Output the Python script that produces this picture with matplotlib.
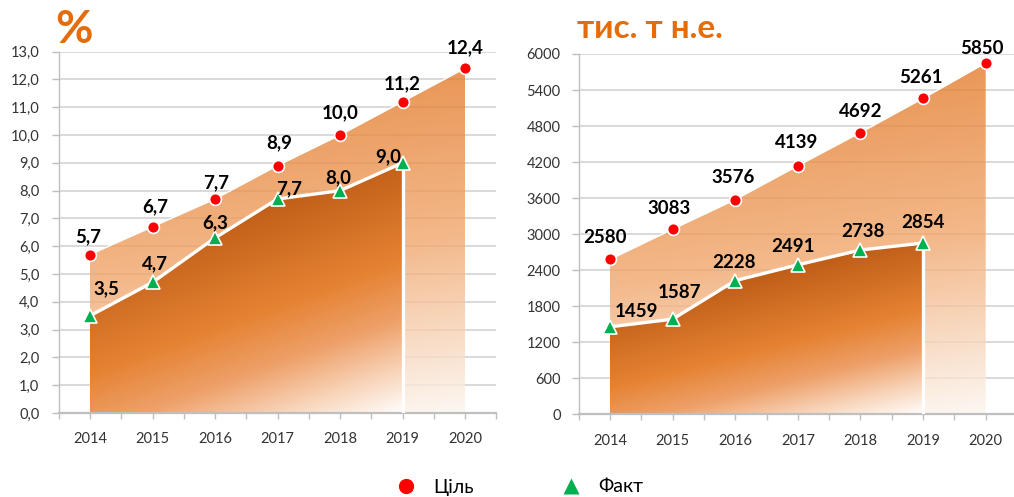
import numpy as np
import matplotlib
matplotlib.use("Agg")
import matplotlib.pyplot as plt
from matplotlib.colors import LinearSegmentedColormap
from matplotlib.patches import PathPatch
from matplotlib.lines import Line2D
from matplotlib.ticker import FuncFormatter, MultipleLocator

plt.rcParams['font.family'] = ['Lato', 'Noto Sans', 'DejaVu Sans']

# ---------------- data ----------------
years = ['2014', '2015', '2016', '2017', '2018', '2019', '2020']
pct_target = [5.7, 6.7, 7.7, 8.9, 10.0, 11.2, 12.4]
pct_fact = [3.5, 4.7, 6.3, 7.7, 8.0, 9.0]
toe_target = [2580, 3083, 3576, 4139, 4692, 5261, 5850]
toe_fact = [1459, 1587, 2228, 2491, 2738, 2854]

pct_title = '%'
toe_title = 'тис. т н.е.'
legend_labels = ['Ціль', 'Факт']

# label offsets (pixels)
pct_fact_off = [(16, 27), (2, 19), (0, 15), (12, 10), (-2, 13), (-14, 6)]
toe_fact_off = [(26, 15), (7, 27), (-1, 18), (-5, 18), (2, 18), (0, 21)]
pct_target_off = [(-2, 18), (3, 20), (1, 16), (2, 23), (0, 22), (0, 18), (0, 21)]
toe_target_off = [(-5, 22), (-4, 21), (-2, 22), (-1, 23), (0, 21), (-2, 21), (-4, 15)]

ORANGE = '#E46C0A'
GRID = '#D0D0D0'
SPINE = '#BFBFBF'
TICKC = '#333333'

target_cmap = LinearSegmentedColormap.from_list('tg', [
    (0.0, (224/255, 112/255, 25/255)),
    (0.55, (241/255, 167/255, 109/255)),
    (1.0, (252/255, 246/255, 240/255)),
])
fact_cmap = LinearSegmentedColormap.from_list('fc', [
    (0.0, (172/255, 78/255, 16/255)),
    (0.30, (194/255, 96/255, 26/255)),
    (0.58, (229/255, 130/255, 50/255)),
    (0.74, (238/255, 160/255, 105/255)),
    (0.88, (248/255, 212/255, 185/255)),
    (1.0, (255/255, 253/255, 251/255)),
])


def gradient_area(ax, xs, ys, cmap, k, alpha, zorder):
    xs = np.asarray(xs, float)
    ys = np.asarray(ys, float)
    poly = ax.fill_between(xs, 0, ys, facecolor='none', edgecolor='none')
    path = poly.get_paths()[0]
    patch = PathPatch(path, transform=ax.transData, facecolor='none', edgecolor='none')
    nx, ny = 400, 400
    u = np.linspace(0, 1, nx)[None, :]
    v = np.linspace(0, 1, ny)[:, None]
    t = (v + k * u) / (1 + k)
    img = cmap(t)
    img[..., 3] = alpha
    im = ax.imshow(img, extent=(xs.min(), xs.max(), 0, ys.max()), origin='upper',
                   aspect='auto', zorder=zorder, interpolation='bilinear')
    im.set_clip_path(patch)


def draw_panel(ax, target, fact, ymax, ystep, fmt, t_off, f_off, ypad):
    x = np.arange(len(years))
    xf = x[:len(fact)]
    ax.set_axisbelow(True)
    ax.yaxis.grid(True, color=GRID, lw=1.1, zorder=0)
    gradient_area(ax, x, target, target_cmap, 0.15, 0.8, 1)
    gradient_area(ax, xf, fact, fact_cmap, 0.45, 1.0, 2)
    # white outline on fact
    ax.plot(xf, fact, color='white', lw=2.4, zorder=3, solid_capstyle='butt')
    ax.vlines(xf[-1], 0, fact[-1], color='white', lw=2.4, zorder=3)
    ax.plot(x, target, color='white', lw=1.0, zorder=3)
    # markers
    ax.plot(x, target, ls='none', marker='o', ms=8.5, color='#FF0000', mec='white', mew=1.2, zorder=5)
    ax.plot(xf, fact, ls='none', marker='^', ms=9.5, color='#00B050', mec='white', mew=1.2, zorder=5)
    for i, v in enumerate(target):
        ax.annotate(fmt(v), (x[i], v), xytext=t_off[i], textcoords='offset pixels',
                    ha='center', va='center', fontsize=13.5, fontweight='bold', color='black', zorder=6)
    for i, v in enumerate(fact):
        ax.annotate(fmt(v), (xf[i], v), xytext=f_off[i], textcoords='offset pixels',
                    ha='center', va='center', fontsize=13.5, fontweight='bold', color='black', zorder=6)
    ax.set_xlim(-0.5, 6.5)
    ax.set_ylim(0, ymax)
    ax.yaxis.set_major_locator(MultipleLocator(ystep))
    ax.yaxis.set_major_formatter(FuncFormatter(lambda val, pos: fmt(val)))
    ax.set_xticks(x)
    ax.set_xticklabels(years)
    ax.set_xticks(np.arange(-0.5, 7.0, 1.0), minor=True)
    for s in ['top', 'right']:
        ax.spines[s].set_visible(False)
    ax.spines['left'].set_color(SPINE)
    ax.spines['left'].set_linewidth(1.0)
    ax.spines['bottom'].set_color(SPINE)
    ax.spines['bottom'].set_linewidth(1.6)
    ax.tick_params(axis='x', which='both', length=4, color=SPINE, width=1)
    ax.tick_params(axis='x', which='major', pad=10, labelsize=10.5, labelcolor=TICKC)
    ax.tick_params(axis='y', length=5, color=SPINE, width=1, pad=ypad, labelsize=10.5, labelcolor=TICKC)


fig = plt.figure(figsize=(10.14, 4.97), dpi=100)
ax1 = fig.add_axes([0.05794, 0.16901, 0.43146, 0.72696])
ax2 = fig.add_axes([0.57071, 0.16600, 0.43225, 0.72535])

fmt_pct = lambda v: f'{v:.1f}'.replace('.', ',')
fmt_toe = lambda v: f'{v:.0f}'

draw_panel(ax1, pct_target, pct_fact, 13, 1, fmt_pct, pct_target_off, pct_fact_off, 9)
draw_panel(ax2, toe_target, toe_fact, 6000, 600, fmt_toe, toe_target_off, toe_fact_off, 8)

fig.text(55/1014, 1-43/497, pct_title, color=ORANGE, fontsize=33, fontweight='bold',
         ha='left', va='baseline')
fig.text(577/1014, 1-38/497, toe_title, color=ORANGE, fontsize=24, fontweight='bold',
         ha='left', va='baseline')

handles = [Line2D([], [], ls='none', marker='o', ms=11, color='#FF0000', mec='none'),
           Line2D([], [], ls='none', marker='^', ms=12, color='#00B050', mec='none')]
fig.legend(handles, legend_labels, ncol=2, loc='center', bbox_to_anchor=(520/1014, 1-487/497),
           frameon=False, fontsize=14, handlelength=1.0, handletextpad=0.9, columnspacing=4.5,
           numpoints=1)

fig.savefig('out.png', dpi=100)
